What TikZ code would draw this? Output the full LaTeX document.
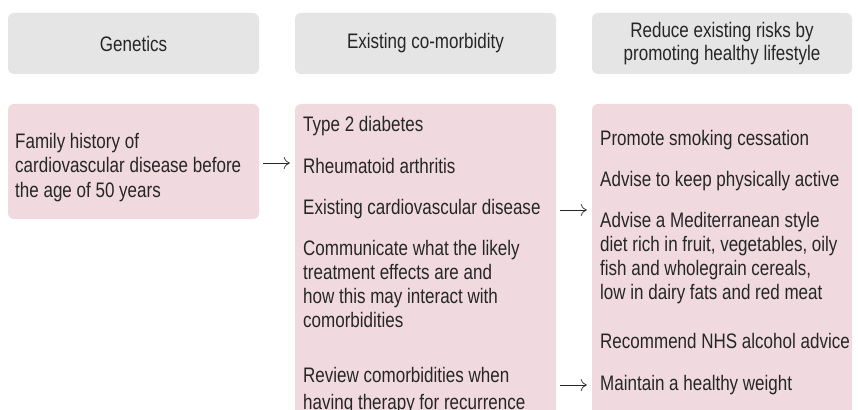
\documentclass[tikz,border=0pt]{standalone}
\usepackage{fontspec}
\setmainfont{Liberation Sans}[FakeStretch=0.81]
\usetikzlibrary{arrows.meta}
\definecolor{hdrgrey}{RGB}{229,229,229}
\definecolor{pinkbox}{RGB}{240,218,223}
\definecolor{txt}{RGB}{38,38,38}
\begin{document}
\begin{tikzpicture}[x=1pt,y=-1pt,
  hdr/.style={fill=hdrgrey, rounded corners=6pt, inner sep=0pt, text=txt, align=center,
    font=\fontsize{21}{23.5}\selectfont},
  pbox/.style={fill=pinkbox, rounded corners=6pt, inner sep=0pt},
  item/.style={anchor=base west, inner sep=0pt, text=txt, align=left,
    font=\fontsize{21}{24}\selectfont},
  arr/.style={draw=txt, line width=0.7pt, -{To[length=6pt,width=12pt]},
    shorten <=4pt, shorten >=5pt}]
\useasboundingbox (0,0) rectangle (858,409);
\clip (0,0) rectangle (858,409);
\fill[white] (0,0) rectangle (858,409);
% headers
\node[hdr, minimum width=251pt, minimum height=61pt] (h1) at (133.5,43.5) {Genetics};
\node[hdr, minimum width=261pt, minimum height=61pt] (h2) at (425.5,43.5) {Existing co-morbidity};
\node[hdr, minimum width=260pt, minimum height=61pt] (h3) at (722,43.5) {Reduce existing risks by\\promoting healthy lifestyle};
% pink boxes
\node[pbox, minimum width=251pt, minimum height=115pt] (p1) at (133.5,161.5) {};
\node[pbox, minimum width=261pt, minimum height=326pt] (p2) at (425.5,267) {};
\node[pbox, minimum width=260pt, minimum height=326pt] (p3) at (722,267) {};
% genetics text (anchor = baseline of last line)
\node[item, font=\fontsize{21}{24.5}\selectfont] (g1) at (15,197) {Family history of\\cardiovascular disease before\\the age of 50 years};
% co-morbidity items
\node[item] (m1) at (303,131.5) {Type 2 diabetes};
\node[item] (m2) at (303,173) {Rheumatoid arthritis};
\node[item] (m3) at (303,214) {Existing cardiovascular disease};
\node[item] (m4) at (303,327) {Communicate what the likely\\treatment effects are and\\how this may interact with\\comorbidities};
\node[item, font=\fontsize{21}{27}\selectfont] (m5) at (303,409) {Review comorbidities when\\having therapy for recurrence};
% lifestyle items
\node[item] (r1) at (600,145) {Promote smoking cessation};
\node[item] (r2) at (600,186) {Advise to keep physically active};
\node[item] (r3) at (600,299) {Advise a Mediterranean style\\diet rich in fruit, vegetables, oily\\fish and wholegrain cereals,\\low in dairy fats and red meat};
\node[item] (r4) at (600,348) {Recommend NHS alcohol advice};
\node[item] (r5) at (600,390) {Maintain a healthy weight};
% arrows
\draw[arr] (p1.east |- 0,163) -- (p2.west |- 0,163);
\draw[arr] (p2.east |- 0,210) -- (p3.west |- 0,210);
\draw[arr] (p2.east |- 0,385) -- (p3.west |- 0,385);
\end{tikzpicture}
\end{document}
